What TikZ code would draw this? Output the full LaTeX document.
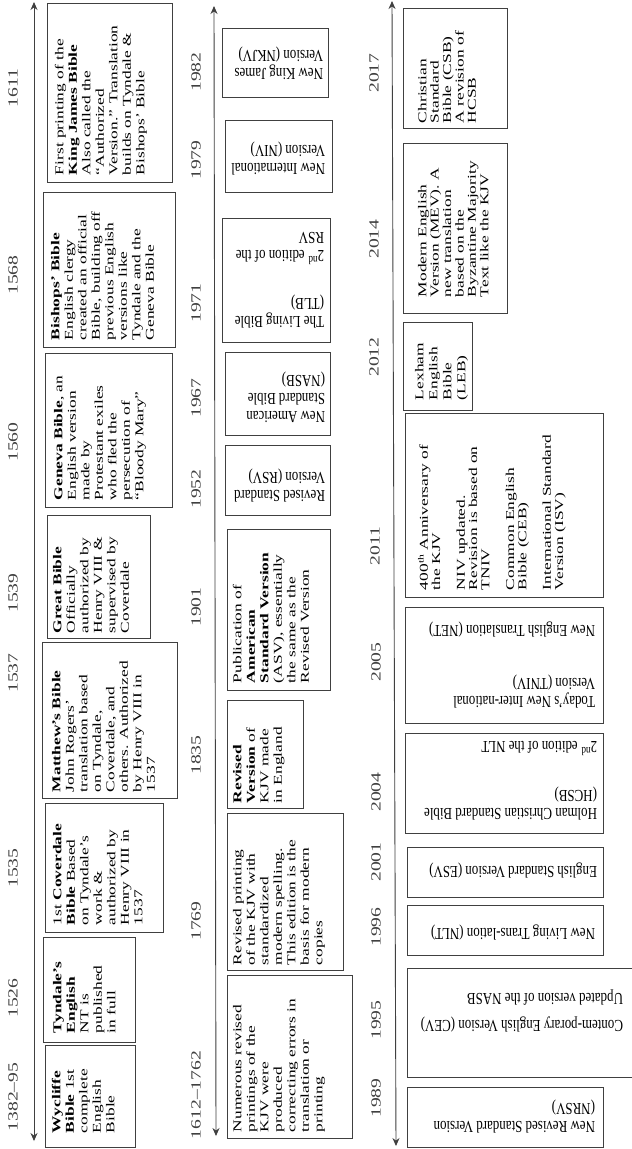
\documentclass[tikz,border=0pt]{standalone}
\usepackage{fontspec}
\setmainfont{Liberation Serif}
\newfontfamily\bodyf[FakeStretch=1.45]{Liberation Serif}
\newfontfamily\updf[FakeStretch=0.77]{Liberation Serif}
\newfontfamily\yearf[FakeStretch=1.4]{Liberation Serif}
\usetikzlibrary{arrows.meta,fit}
\begin{document}
\begin{tikzpicture}[x=1pt,y=-1pt,
  box/.style={draw=black!75, line width=0.8pt, inner sep=0pt, outer sep=0pt},
  vt/.style={rotate=90, anchor=north west, inner sep=0pt, outer sep=0pt, align=left,
    font=\bodyf\fontsize{12}{13.5}\selectfont, text=black},
  ut/.style={rotate=180, anchor=north west, inner sep=0pt, outer sep=0pt, align=left,
    font=\updf\fontsize{16.8}{18}\selectfont, text=black},
  yr/.style={rotate=90, inner sep=0pt, font=\yearf\fontsize{14}{16}\selectfont, text=black!75},
  axis/.style={draw=black!75, line width=0.9pt,
    {Stealth[length=8pt,width=7pt]}-{Stealth[length=8pt,width=7pt]}},
]
\useasboundingbox (0,0) rectangle (632,1149);
\fill[white] (0,0) rectangle (632,1149);

% ---------------- axes ----------------
\coordinate (a1t) at (34,2);   \coordinate (a1b) at (34,1141);
\coordinate (a2t) at (214,6);  \coordinate (a2b) at (216,1136);
\coordinate (a3t) at (392,1);  \coordinate (a3b) at (396,1146);
\draw[axis] (a1b) -- (a1t);
\draw[axis] (a2b) -- (a2t);
\draw[axis] (a3b) -- (a3t);

% ---------------- timeline 1 ----------------
\node[yr] (y1382) at (13,1097) {1382–95};
\node[yr] (y1526) at (13,998) {1526};
\node[yr] (y1535) at (13,868) {1535};
\node[yr] (y1537) at (13,673) {1537};
\node[yr] (y1539) at (13,593) {1539};
\node[yr] (y1560) at (13,442) {1560};
\node[yr] (y1568) at (13,275) {1568};
\node[yr] (y1611) at (13,88) {1611};

\node[box, fit={(45,1045) (135,1147)}] (wyc) {};
\node[vt] (wyct) at ([shift={(7,-14)}]wyc.south west)
  {\textbf{Wycliffe}\\\textbf{Bible} 1st\\complete\\English\\Bible};

\node[box, fit={(43,937) (135,1042)}] (tyn) {};
\node[vt] (tynt) at ([shift={(10,-9)}]tyn.south west)
  {\textbf{Tyndale’s}\\\textbf{English}\\NT is\\published\\in full};

\node[box, fit={(45,803) (163,932)}] (cov) {};
\node[vt] (covt) at ([shift={(8,-7)}]cov.south west)
  {1st \textbf{Coverdale}\\\textbf{Bible} Based\\on Tyndale’s\\work \&\\authorized by\\Henry VIII in\\1537};

\node[box, fit={(42,642) (177,798)}] (mat) {};
\node[vt] (matt) at ([shift={(10,-6)}]mat.south west)
  {\textbf{Matthew’s Bible}\\John Rogers’\\translation based\\on Tyndale,\\Coverdale, and\\others. Authorized\\by Henry VIII in\\1537};

\node[box, fit={(47,515) (150,638)}] (grt) {};
\node[vt] (grtt) at ([shift={(6,-5)}]grt.south west)
  {\textbf{Great Bible}\\Officially\\authorized by\\Henry VIII \&\\supervised by\\Coverdale};

\node[box, fit={(45,353) (172,507)}] (gen) {};
\node[vt] (gent) at ([shift={(9,-7)}]gen.south west)
  {\textbf{Geneva Bible}, an\\English version\\made by\\Protestant exiles\\who fled the\\persecution of\\“Bloody Mary”};

\node[box, fit={(43,192) (175,347)}] (bis) {};
\node[vt] (bist) at ([shift={(8,-7)}]bis.south west)
  {\textbf{Bishops’ Bible}\\English clergy\\created an official\\Bible, building off\\previous English\\versions like\\Tyndale and the\\Geneva Bible};

\node[box, fit={(47,3) (172,182)}] (kjv) {};
\node[vt] (kjvt) at ([shift={(8,-7)}]kjv.south west)
  {First printing of the\\\textbf{King James Bible}\\Also called the\\“Authorized\\Version.” Translation\\builds on Tyndale \&\\Bishops’ Bible};

% ---------------- timeline 2 ----------------
\node[yr] (y1612) at (196,1095) {1612–1762};
\node[yr] (y1769) at (196,921) {1769};
\node[yr] (y1835) at (196,755) {1835};
\node[yr] (y1901) at (196,607) {1901};
\node[yr] (y1952) at (196,489) {1952};
\node[yr] (y1967) at (196,398) {1967};
\node[yr] (y1971) at (196,303) {1971};
\node[yr] (y1979) at (196,160) {1979};
\node[yr] (y1982) at (196,72) {1982};

\node[box, fit={(227,975) (352,1138)}] (num) {};
\node[vt] (numt) at ([shift={(6,-6)}]num.south west)
  {Numerous revised\\printings of the\\KJV were\\produced\\correcting errors in\\translation or\\printing};

\node[box, fit={(227,813) (343,970)}] (rpr) {};
\node[vt] (rprt) at ([shift={(6,-5)}]rpr.south west)
  {Revised printing\\of the KJV with\\standardized\\modern spelling.\\This edition is the\\basis for modern\\copies};

\node[box, fit={(227,700) (303,808)}] (rv) {};
\node[vt] (rvt) at ([shift={(6,-5)}]rv.south west)
  {\textbf{Revised}\\\textbf{Version} of\\KJV made\\in England};

\node[box, fit={(227,529) (330,690)}] (asv) {};
\node[vt] (asvt) at ([shift={(6,-7)}]asv.south west)
  {Publication of\\\textbf{American}\\\textbf{Standard Version}\\(ASV), essentially\\the same as the\\Revised Version};

\node[box, fit={(225,445) (330,515)}] (rsv) {};
\node[ut] (rsvt) at ([shift={(-5,-13)}]rsv.south east)
  {Revised Standard\\Version (RSV)};

\node[box, fit={(225,352) (330,435)}] (nasb) {};
\node[ut] (nasbt) at ([shift={(-5,-12)}]nasb.south east)
  {New American\\Standard Bible\\(NASB)};

\node[box, fit={(222,218) (330,342)}] (tlb) {};
\node[ut] (tlbt) at ([shift={(-6,-14)}]tlb.south east)
  {The Living Bible\\(TLB)\\[29pt]2\textsuperscript{nd} edition of the\\RSV};

\node[box, fit={(225,120) (332,192)}] (niv) {};
\node[ut] (nivt) at ([shift={(-7,-17)}]niv.south east)
  {New International\\Version (NIV)};

\node[box, fit={(222,28) (328,97)}] (nkjv) {};
\node[ut] (nkjvt) at ([shift={(-5,-17)}]nkjv.south east)
  {New King James\\Version (NKJV)};

% ---------------- timeline 3 ----------------
\node[yr] (y1989) at (376,1098) {1989};
\node[yr] (y1995) at (376,1020) {1995};
\node[yr] (y1996) at (376,927) {1996};
\node[yr] (y2001) at (376,862) {2001};
\node[yr] (y2004) at (376,792) {2004};
\node[yr] (y2005) at (376,662) {2005};
\node[yr] (y2011) at (375,546) {2011};
\node[yr] (y2012) at (374,357) {2012};
\node[yr] (y2014) at (374,239) {2014};
\node[yr] (y2017) at (374,73) {2017};

\node[box, fit={(407,1087) (603,1147)}] (nrsv) {};
\node[ut] (nrsvt) at ([shift={(-8,-14)}]nrsv.south east)
  {New Revised Standard Version\\(NRSV)};

\node[box, fit={(407,968) (645,1077)}] (cev) {};
\node[ut] (cevt) at ([shift={(-22,-45)}]cev.south east)
  {Contem-porary English Version (CEV)\\[9pt]Updated version of the NASB};

\node[box, fit={(407,905) (603,955)}] (nlt) {};
\node[ut] (nltt) at ([shift={(-8,-15)}]nlt.south east)
  {New Living Trans-lation (NLT)};

\node[box, fit={(407,847) (603,897)}] (esv) {};
\node[ut] (esvt) at ([shift={(-6,-19)}]esv.south east)
  {English Standard Version (ESV)};

\node[box, fit={(405,733) (603,833)}] (hcsb) {};
\node[ut] (hcsbt) at ([shift={(-6,-13)}]hcsb.south east)
  {Holman Christian Standard Bible\\(HCSB)\\[30pt]2\textsuperscript{nd} edition of the NLT};

\node[box, fit={(405,607) (603,723)}] (tniv) {};
\node[ut] (tnivt) at ([shift={(-8,-15)}]tniv.south east)
  {Today’s New Inter-national\\Version (TNIV)\\[35pt]New English Translation (NET)};

\node[box, fit={(405,413) (603,597)}] (v2011) {};
\node[vt, font=\bodyf\fontsize{12}{12.3}\selectfont] (v2011t) at ([shift={(13,-7)}]v2011.south west)
  {400\textsuperscript{th} Anniversary of\\the KJV\\[12.3pt]NIV updated.\\Revision is based on\\TNIV\\[12.3pt]Common English\\Bible (CEB)\\[12.3pt]International Standard\\Version (ISV)};

\node[box, fit={(403,322) (472,410)}] (leb) {};
\node[vt, font=\bodyf\fontsize{12}{14}\selectfont] (lebt) at ([shift={(12,-10)}]leb.south west)
  {Lexham\\English\\Bible\\(LEB)};

\node[box, fit={(403,143) (507,313)}] (mev) {};
\node[vt, font=\bodyf\fontsize{12}{12.4}\selectfont] (mevt) at ([shift={(15,-16)}]mev.south west)
  {Modern English\\Version (MEV). A\\new translation\\based on the\\Byzantine Majority\\Text like the KJV};

\node[box, fit={(403,8) (507,128)}] (csb) {};
\node[vt, font=\bodyf\fontsize{12}{12.4}\selectfont] (csbt) at ([shift={(15,-5)}]csb.south west)
  {Christian\\Standard\\Bible (CSB)\\A revision of\\HCSB};

\end{tikzpicture}
\end{document}
